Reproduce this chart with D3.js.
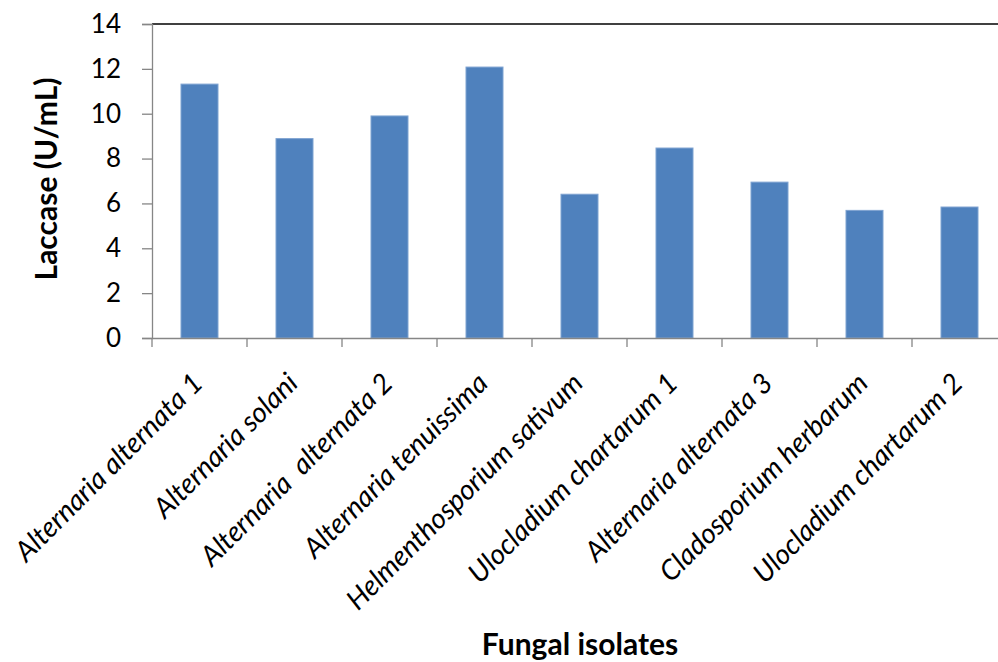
<!DOCTYPE html>
<html>
<head>
<meta charset="utf-8">
<script src="https://cdn.jsdelivr.net/npm/d3@7"></script>
<style>
  body { margin: 0; background: #fff; }
  svg { display: block; }
</style>
</head>
<body>
<div id="viz-container"></div>
<script>
let vizWidth = 998;
let vizHeight = 662;

// data
let isolates = [
    "Alternaria alternata 1",
    "Alternaria solani",
    "Alternaria  alternata 2",
    "Alternaria tenuissima",
    "Helmenthosporium sativum",
    "Ulocladium chartarum 1",
    "Alternaria alternata 3",
    "Cladosporium herbarum",
    "Ulocladium chartarum 2"
];
let laccase = [11.32, 8.89, 9.9, 12.08, 6.41, 8.47, 6.95, 5.69, 5.84];
let yTicks = [0, 2, 4, 6, 8, 10, 12, 14];

let plotLeft = 152, plotRight = 1007, plotTop = 24, plotBottom = 338;

let viz = d3.select("#viz-container")
    .append("svg")
        .attr("width", vizWidth)
        .attr("height", vizHeight)
        .style("background-color", "white");

let xScale = d3.scaleBand().domain(isolates).range([plotLeft, plotRight]);
let yScale = d3.scaleLinear().domain([0, 14]).range([plotBottom, plotTop]);

let font = "Lato, 'Open Sans', sans-serif";
let barWidth = 37;

// bars
viz.selectAll(".bar").data(laccase).enter().append("rect")
    .attr("class", "bar")
    .attr("x", (d, i) => xScale(isolates[i]) + (xScale.bandwidth() - barWidth) / 2)
    .attr("y", d => yScale(d))
    .attr("width", barWidth)
    .attr("height", d => plotBottom - yScale(d))
    .attr("fill", "#4f81bd")
    .attr("stroke", "#7fa3d1")
    .attr("stroke-width", 1);

// top border
viz.append("line")
    .attr("x1", plotLeft).attr("x2", vizWidth)
    .attr("y1", plotTop).attr("y2", plotTop)
    .attr("stroke", "#000").attr("stroke-width", 1.6);

// y axis
let yAxis = viz.append("g")
    .attr("transform", "translate(" + plotLeft + ",0)")
    .call(d3.axisLeft(yScale).tickValues(yTicks).tickSize(10).tickPadding(21).tickFormat(d3.format("d")));
yAxis.select(".domain").attr("stroke", "#868686").attr("stroke-width", 1.3);
yAxis.selectAll(".tick line").attr("stroke", "#868686").attr("stroke-width", 1.3);
yAxis.selectAll(".tick text")
    .attr("font-family", font).attr("font-size", 26).attr("fill", "#000");

// x axis
let xAxis = viz.append("g")
    .attr("transform", "translate(0," + plotBottom + ")")
    .call(d3.axisBottom(xScale).tickSize(0).tickFormat(""));
xAxis.select(".domain").attr("stroke", "#868686").attr("stroke-width", 1.3);
xAxis.selectAll(".tick").remove();
let edges = isolates.map(d => xScale(d));
viz.selectAll(".xtick").data(edges).enter().append("line")
    .attr("class", "xtick")
    .attr("x1", d => d).attr("x2", d => d)
    .attr("y1", plotBottom).attr("y2", plotBottom + 9)
    .attr("stroke", "#868686").attr("stroke-width", 1.3);

// category labels
viz.selectAll(".xlabel").data(isolates).enter().append("text")
    .attr("class", "xlabel")
    .attr("transform", d => "translate(" + (xScale(d) + xScale.bandwidth() / 2 + 5) + "," + 385 + ") rotate(-45)")
    .attr("text-anchor", "end")
    .attr("font-family", font)
    .attr("font-style", "italic")
    .attr("font-size", 28)
    .style("white-space", "pre")
    .text(d => d);

// axis titles
viz.append("text")
    .attr("transform", "translate(57,179) rotate(-90)")
    .attr("text-anchor", "middle")
    .attr("font-family", font)
    .attr("font-weight", "bold")
    .attr("font-size", 30)
    .text("Laccase (U/mL)");

viz.append("text")
    .attr("x", 580).attr("y", 655)
    .attr("text-anchor", "middle")
    .attr("font-family", font)
    .attr("font-weight", "bold")
    .attr("font-size", 30)
    .text("Fungal isolates");
</script>
</body>
</html>
